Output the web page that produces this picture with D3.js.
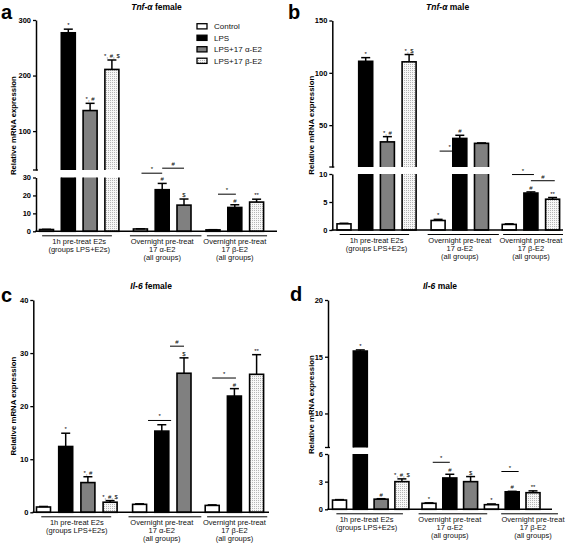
<!DOCTYPE html>
<html><head><meta charset="utf-8">
<script src="https://cdn.jsdelivr.net/npm/d3@7"></script>
<style>
html,body{margin:0;padding:0;background:#fff;}
svg{display:block;font-family:"Liberation Sans",Arial,Helvetica,sans-serif;}
</style></head><body>
<svg id="chart" width="567" height="543"></svg>
<script>
// ---------- shared categories ----------
const treatments = ["Control", "LPS", "LPS+17 α-E2", "LPS+17 β-E2"];
const groupLabels = [
  ["1h pre-treat E2s", "(groups LPS+E2s)"],
  ["Overnight pre-treat", "17 α-E2", "(all groups)"],
  ["Overnight pre-treat", "17 β-E2", "(all groups)"]
];
const barTreatment = [0, 1, 2, 3, 0, 1, 2, 0, 1, 3];
const barGroup     = [0, 0, 0, 0, 1, 1, 1, 2, 2, 2];

// ---------- panel a: Tnf-α female ----------
const tnfFemaleMean = [1.0, 277, 137, 211, 1.3, 23.2, 14.6, 0.8, 13.3, 16.3];
const tnfFemaleErr  = [0.1, 6.5, 13, 17, 0.1, 3.5, 3.4, 0.1, 1.5, 1.6];
const tnfFemaleSig  = ["", "*", "*, #", "*, #, $", "", "#", "$", "", "#", "**"];
const tnfFemaleBrackets = [
  { from: 4.05, to: 5.0, value: 32.4, seg: "lo", label: "*" },
  { from: 5.0, to: 6.0, value: 35.2, seg: "lo", label: "#" },
  { from: 7.23, to: 8.05, value: 20.7, seg: "lo", label: "*" }
];
const tnfFemaleTicksHi = [100, 200, 300];
const tnfFemaleTicksLo = [0, 10, 20, 30];

// ---------- panel b: Tnf-α male ----------
const tnfMaleMean = [1.1, 111, 34, 110.5, 1.7, 37.3, 32.6, 1.0, 6.6, 5.5];
const tnfMaleErr  = [0.1, 3.5, 5, 7, 0.2, 3, 0.4, 0.1, 0.2, 0.3];
const tnfMaleSig  = ["", "*", "*, #", "*, $", "*", "#", "", "", "#", "**"];
const tnfMaleBrackets = [
  { from: 4.07, to: 5.0, value: 25.2, seg: "hi", label: "*" },
  { from: 7.13, to: 8.14, value: 9.9, seg: "lo", label: "*" },
  { from: 8.0, to: 9.1, value: 8.8, seg: "lo", label: "#" }
];
const tnfMaleTicksHi = [50, 100, 150];
const tnfMaleTicksLo = [0, 5, 10];

// ---------- panel c: Il-6 female ----------
const il6FemaleMean = [1.0, 12.4, 5.6, 1.9, 1.5, 15.3, 26.2, 1.3, 21.9, 26.0];
const il6FemaleErr  = [0.1, 2.5, 1.1, 0.3, 0.1, 1.2, 2.9, 0.1, 1.4, 3.7];
const il6FemaleSig  = ["", "*", "*, #", "*, #, $", "", "", "$", "", "#", "**"];
const il6FemaleBrackets = [
  { from: 4.38, to: 5.42, value: 17.3, seg: "lo", label: "*" },
  { from: 5.37, to: 6.0, value: 31.3, seg: "lo", label: "#" },
  { from: 7.0, to: 8.07, value: 25.3, seg: "lo", label: "*" }
];
const il6FemaleTicks = [0, 10, 20, 30, 40];

// ---------- panel d: Il-6 male ----------
const il6MaleMean = [1.0, 15.5, 1.1, 3.0, 0.65, 3.4, 3.0, 0.5, 1.9, 1.8];
const il6MaleErr  = [0.05, 0.1, 0.05, 0.3, 0.05, 0.4, 0.55, 0.08, 0.05, 0.2];
const il6MaleSig  = ["", "*", "#", "*, #, $", "*", "#", "$", "*", "#", "**"];
const il6MaleBrackets = [
  { from: 4.18, to: 5.0, value: 5.1, seg: "lo", label: "*" },
  { from: 7.48, to: 8.31, value: 4.1, seg: "lo", label: "*" }
];
const il6MaleTicksHi = [10, 15, 20];
const il6MaleTicksLo = [0, 3, 6];

// ---------- layout ----------
const svg = d3.select("#chart");
const defs = svg.append("defs");
const pat = defs.append("pattern").attr("id", "dots").attr("patternUnits", "userSpaceOnUse")
  .attr("width", 2).attr("height", 2);
pat.append("rect").attr("width", 2).attr("height", 2).attr("fill", "#f7f7f7");
pat.append("rect").attr("width", 1).attr("height", 1).attr("fill", "#b4b4b4");

const fills = ["#ffffff", "#000000", "#808080", "url(#dots)"];
const FONT = '"Liberation Sans",Arial,Helvetica,sans-serif';

const panels = [
  { letter: "a", gene: "Tnf-α", sex: " female", letterPos: [1, 18.5], titleY: 10,
    axisX: 36, first: 46.5, sp: 21.8, gaps: [6.7, 7.2], xEnd: 277,
    hi: { dom: [30, 300], rng: [170, 20], ticks: tnfFemaleTicksHi },
    lo: { dom: [0, 30], rng: [231.3, 177.5], ticks: tnfFemaleTicksLo },
    mean: tnfFemaleMean, err: tnfFemaleErr, sig: tnfFemaleSig, brackets: tnfFemaleBrackets,
    groupExt: [[-0.2, 0.0], [-0.48, 0.8], [-0.28, 0.48]], labelShift: [0, 0, 0], legend: true, ylabX: 13 },
  { letter: "b", gene: "Tnf-α", sex: " male", letterPos: [288, 18.5], titleY: 10,
    axisX: 332.3, first: 344, sp: 21.7, gaps: [7.3, 6], xEnd: 563,
    hi: { dom: [10, 150], rng: [167, 20.5], ticks: tnfMaleTicksHi },
    lo: { dom: [0, 10], rng: [230, 174], ticks: tnfMaleTicksLo },
    mean: tnfMaleMean, err: tnfMaleErr, sig: tnfMaleSig, brackets: tnfMaleBrackets,
    groupExt: [[-0.2, 0.0], [-0.48, 0.8], [-0.28, 0.48]], labelShift: [0, 0, 0], legend: false, ylabX: 311 },
  { letter: "c", gene: "Il-6", sex: " female", letterPos: [1, 302], titleY: 289,
    axisX: 33.3, first: 43.5, sp: 22.2, gaps: [7.3, 6], xEnd: 269,
    hi: null,
    lo: { dom: [0, 40], rng: [512.3, 300], ticks: il6FemaleTicks },
    mean: il6FemaleMean, err: il6FemaleErr, sig: il6FemaleSig, brackets: il6FemaleBrackets,
    groupExt: [[-0.1, 0.05], [-0.5, 0.78], [-0.23, 0.48]], labelShift: [0, 0, 0], legend: false, ylabX: 13 },
  { letter: "d", gene: "Il-6", sex: " male", letterPos: [290, 301], titleY: 289,
    axisX: 328, first: 339.5, sp: 20.8, gaps: [6.3, 0], xEnd: 552,
    hi: { dom: [7, 20], rng: [447.5, 300], ticks: il6MaleTicksHi },
    lo: { dom: [0, 6], rng: [509.3, 454], ticks: il6MaleTicksLo },
    mean: il6MaleMean, err: il6MaleErr, sig: il6MaleSig, brackets: il6MaleBrackets,
    groupExt: [[-0.15, 0.05], [-0.5, 0.8], [0.47, 1.2]], labelShift: [-0.2, 0, 1.0], legend: false, ylabX: 311 }
];

panels.forEach((P, pi) => {
  const g = svg.append("g");
  const gapUnits = P.gaps.map(v => v / P.sp);
  const slot = i => i + d3.sum(gapUnits.slice(0, barGroup[i]));
  const slotF = v => { const k = Math.min(Math.floor(v), barGroup.length - 1); return slot(k) + (v - k); };
  const x = d3.scaleLinear().domain([0, 1]).range([P.first, P.first + P.sp]);
  const lo = d3.scaleLinear().domain(P.lo.dom).range(P.lo.rng);
  const hi = P.hi ? d3.scaleLinear().domain(P.hi.dom).range(P.hi.rng) : null;
  const y = v => (hi && v > P.lo.dom[1]) ? hi(v) : lo(v);
  const bw = 14;

  const loClipId = "lo" + pi, hiClipId = "hi" + pi;
  defs.append("clipPath").attr("id", loClipId).append("rect")
    .attr("x", 0).attr("width", 567)
    .attr("y", hi ? P.lo.rng[1] : 0).attr("height", hi ? P.lo.rng[0] - P.lo.rng[1] + 4 : 543);
  if (hi) defs.append("clipPath").attr("id", hiClipId).append("rect")
    .attr("x", 0).attr("width", 567)
    .attr("y", P.hi.rng[1] - 30).attr("height", P.hi.rng[0] - P.hi.rng[1] + 30);

  const idx = d3.range(P.mean.length);

  g.append("g").attr("clip-path", `url(#${loClipId})`).selectAll("rect").data(idx).join("rect")
    .attr("x", i => x(slot(i)) - bw / 2).attr("width", bw)
    .attr("y", i => lo(P.mean[i])).attr("height", i => lo(0) - lo(P.mean[i]))
    .attr("fill", i => fills[barTreatment[i]]).attr("stroke", "#000").attr("stroke-width", 1.6);
  if (hi) {
    const up = idx.filter(i => P.mean[i] > P.hi.dom[0]);
    g.append("g").attr("clip-path", `url(#${hiClipId})`).selectAll("rect").data(up).join("rect")
      .attr("x", i => x(slot(i)) - bw / 2).attr("width", bw)
      .attr("y", i => hi(P.mean[i])).attr("height", i => hi(P.hi.dom[0]) - hi(P.mean[i]) + 6)
      .attr("fill", i => fills[barTreatment[i]]).attr("stroke", "#000").attr("stroke-width", 1.6);
  }

  const eb = g.append("g").attr("stroke", "#000").attr("stroke-width", 1.5);
  idx.forEach(i => {
    const cx = x(slot(i)), y0 = y(P.mean[i]), y1 = y(P.mean[i] + P.err[i]);
    eb.append("line").attr("x1", cx).attr("x2", cx).attr("y1", y0).attr("y2", y1);
    eb.append("line").attr("x1", cx - 4.5).attr("x2", cx + 4.5).attr("y1", y1).attr("y2", y1);
  });

  g.append("g").selectAll("text").data(idx.filter(i => P.sig[i])).join("text")
    .attr("x", i => x(slot(i))).attr("y", i => y(P.mean[i] + P.err[i]) - 2)
    .attr("text-anchor", "middle").attr("font-size", 6).attr("fill", "#000")
    .text(i => P.sig[i]);

  P.brackets.forEach(b => {
    const sc = b.seg === "hi" ? hi : lo;
    const yy = sc(b.value);
    const x1 = x(slotF(b.from)), x2 = x(slotF(b.to));
    g.append("line").attr("x1", x1).attr("x2", x2).attr("y1", yy).attr("y2", yy)
      .attr("stroke", "#000").attr("stroke-width", 1);
    g.append("text").attr("x", (x1 + x2) / 2).attr("y", yy - 2).attr("text-anchor", "middle")
      .attr("font-size", 6).text(b.label);
  });

  const styleAxis = sel => {
    sel.select(".domain").attr("stroke-width", 1.5);
    sel.selectAll(".tick line").attr("stroke-width", 1.3);
    sel.selectAll(".tick text").attr("font-size", 7.5).attr("font-weight", "bold")
      .attr("font-family", FONT).attr("fill", "#000");
  };
  g.append("g").attr("transform", `translate(${P.axisX},0)`)
    .call(d3.axisLeft(lo).tickValues(P.lo.ticks).tickSize(3).tickSizeOuter(0).tickPadding(2).tickFormat(d3.format("d")))
    .call(styleAxis);
  if (hi) {
    g.append("g").attr("transform", `translate(${P.axisX},0)`)
      .call(d3.axisLeft(hi).tickValues(P.hi.ticks).tickSize(3).tickSizeOuter(0).tickPadding(2).tickFormat(d3.format("d")))
      .call(styleAxis);
    g.append("line").attr("x1", P.axisX - 3).attr("x2", P.axisX + 2)
      .attr("y1", P.hi.rng[0]).attr("y2", P.hi.rng[0]).attr("stroke", "#000").attr("stroke-width", 1.3);
  }

  g.append("line").attr("x1", P.axisX - 0.75).attr("x2", P.xEnd).attr("y1", lo(0)).attr("y2", lo(0))
    .attr("stroke", "#000").attr("stroke-width", 1.5);

  groupLabels.forEach((lab, gi) => {
    const members = idx.filter(i => barGroup[i] === gi);
    const s0 = slot(members[0]), s1 = slot(members[members.length - 1]);
    const gy = lo(0) + 4.5;
    g.append("line").attr("x1", x(s0 + P.groupExt[gi][0])).attr("x2", x(s1 + P.groupExt[gi][1]))
      .attr("y1", gy).attr("y2", gy).attr("stroke", "#000").attr("stroke-width", 1);
    const t = g.append("text").attr("text-anchor", "middle").attr("font-size", 7.5).attr("fill", "#111");
    lab.forEach((ln, k) => {
      t.append("tspan").attr("x", x((s0 + s1) / 2 + P.labelShift[gi])).attr("y", lo(0) + 13 + k * 8).text(ln);
    });
  });

  const yTop = hi ? P.hi.rng[1] : P.lo.rng[1];
  const yMid = (yTop + P.lo.rng[0]) / 2;
  g.append("text").attr("transform", `translate(${P.ylabX + 3},${yMid}) rotate(-90)`)
    .attr("text-anchor", "middle").attr("font-size", 7.8).attr("font-weight", "bold")
    .text("Relative mRNA expression");

  const cx = (P.axisX + P.xEnd) / 2;
  const tt = g.append("text").attr("x", cx).attr("y", P.titleY).attr("text-anchor", "middle")
    .attr("font-size", 8.5).attr("font-weight", "bold");
  tt.append("tspan").attr("font-style", "italic").text(P.gene);
  tt.append("tspan").text(P.sex);

  g.append("text").attr("x", P.letterPos[0]).attr("y", P.letterPos[1])
    .attr("font-size", 20).attr("font-weight", "bold").text(P.letter);

  if (P.legend) {
    const lg = g.append("g");
    treatments.forEach((t, k) => {
      const ly = 26.3 + k * 11.5;
      lg.append("rect").attr("x", 197).attr("y", ly - 2.6).attr("width", 10).attr("height", 5.2)
        .attr("fill", fills[k]).attr("stroke", "#000").attr("stroke-width", 1.3);
      lg.append("text").attr("x", 214).attr("y", ly + 2.8).attr("font-size", 8).attr("fill", "#111").text(t);
    });
  }
});
</script>
</body></html>
